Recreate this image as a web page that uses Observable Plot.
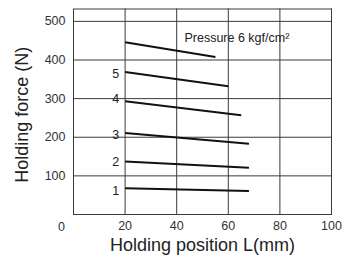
<!DOCTYPE html>
<html>
<head>
<meta charset="utf-8">
<script src="https://cdn.jsdelivr.net/npm/d3@7"></script>
<script src="https://cdn.jsdelivr.net/npm/@observablehq/plot@0.6"></script>
<style>
  html, body { margin: 0; padding: 0; background: #fff; }
</style>
</head>
<body>
<div id="chart"></div>
<script>
// Data
const seriesLabels = ["1", "2", "3", "4", "5", "6"];
const xStart = [20, 20, 20, 20, 20, 20];
const xEnd   = [68, 68, 68, 65, 60, 55];
const yStart = [68, 137, 211, 293, 369, 446];
const yEnd   = [61, 121, 183, 257, 332, 408];
const labelY = [60, 137, 205, 298, 365];
const xTicks = [20, 40, 60, 80, 100];
const yTicks = [100, 200, 300, 400, 500];
const pressureNote = "Pressure 6 kgf/cm²";
const xTitle = "Holding position L(mm)";
const yTitle = "Holding force (N)";

const lines = seriesLabels.map((s, i) => ({s, x1: xStart[i], y1: yStart[i], x2: xEnd[i], y2: yEnd[i]}));
const labels = labelY.map((y, i) => ({s: seriesLabels[i], x: xStart[i], y}));

const grid = "#3a3a3a";
const chart = Plot.plot({
  width: 355,
  height: 258,
  marginLeft: 73,
  marginRight: 24,
  marginTop: 8.5,
  marginBottom: 44,
  style: {fontFamily: "'Liberation Sans', Arial, sans-serif", background: "#fff"},
  x: {domain: [0, 100], ticks: xTicks, tickSize: 0, label: null},
  y: {domain: [0, 532], ticks: yTicks, tickSize: 0, label: null},
  marks: [
    Plot.gridX(xTicks, {stroke: grid, strokeOpacity: 1, strokeWidth: 1}),
    Plot.gridY(yTicks, {stroke: grid, strokeOpacity: 1, strokeWidth: 1}),
    Plot.frame({stroke: grid, strokeWidth: 1}),
    Plot.axisX(xTicks, {tickSize: 0, tickPadding: 7, fontSize: 12.5, fill: "#333", label: null}),
    Plot.axisY(yTicks, {tickSize: 0, tickPadding: 8, fontSize: 12.5, fill: "#333", label: null}),
    Plot.text([0], {x: 0, y: 0, text: d => String(d), dx: -12, dy: 12, fontSize: 12.5, fill: "#333"}),
    Plot.link(lines, {x1: "x1", y1: "y1", x2: "x2", y2: "y2", stroke: "#111", strokeWidth: 2}),
    Plot.text(labels, {x: "x", y: "y", text: "s", textAnchor: "end", dx: -6, fontSize: 12.5, fill: "#222"}),
    Plot.text([pressureNote], {x: 43, y: 456, text: d => d, textAnchor: "start", fontSize: 12.5, fill: "#222"}),
    Plot.text([xTitle], {frameAnchor: "bottom", text: d => d, textAnchor: "middle", lineAnchor: "middle", dy: 31, fontSize: 18, fill: "#222"}),
    Plot.text([yTitle], {frameAnchor: "left", text: d => d, textAnchor: "middle", lineAnchor: "middle", dx: -51, dy: 3, rotate: -90, fontSize: 18, fill: "#222"})
  ]
});
document.getElementById("chart").appendChild(chart);
</script>
</body>
</html>
